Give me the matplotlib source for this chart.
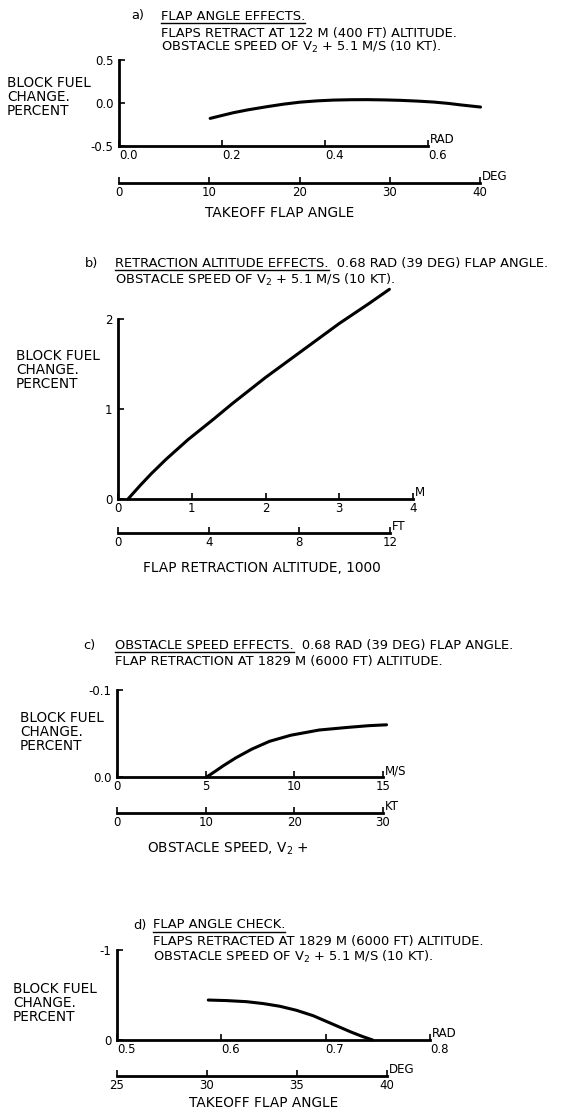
"""Block fuel change figure: four small panels with dual unit x axes."""

import matplotlib

matplotlib.use("Agg")
import matplotlib.pyplot as plt
from matplotlib.lines import Line2D

plt.rcParams["font.family"] = ["DejaVu Sans"]
plt.rcParams["mathtext.default"] = "regular"

W, H = 577, 1113

# a) flap angle effects
a_rad = [0.177, 0.20, 0.222, 0.25, 0.287, 0.32, 0.352, 0.385, 0.417, 0.45,
         0.482, 0.515, 0.546, 0.58, 0.611, 0.64, 0.663, 0.702]
a_fuel = [-0.179, -0.145, -0.113, -0.080, -0.043, -0.013, 0.010, 0.025, 0.034, 0.038,
          0.039, 0.036, 0.031, 0.022, 0.011, -0.005, -0.022, -0.047]
a_xticks = [0.0, 0.2, 0.4, 0.6]
a_xlabels = ["0.0", "0.2", "0.4", "0.6"]
a_yticks = [0.5, 0.0, -0.5]
a_ylabels = ["0.5", "0.0", "-0.5"]
a_deg = [0, 10, 20, 30, 40]

# b) retraction altitude effects
b_alt = [0.136, 0.3, 0.45, 0.65, 0.95, 1.3, 1.55, 2.0, 2.5, 3.0, 3.4, 3.68]
b_fuel = [0.0, 0.15, 0.28, 0.44, 0.66, 0.89, 1.06, 1.35, 1.65, 1.95, 2.17, 2.33]
b_xticks = [0, 1, 2, 3, 4]
b_yticks = [0, 1, 2]
b_ft = [0, 4, 8, 12]

# c) obstacle speed effects
c_speed = [5.06, 5.5, 6.0, 6.7, 7.6, 8.6, 9.8, 11.4, 13.0, 14.2, 15.2]
c_fuel = [0.0, -0.006, -0.013, -0.022, -0.032, -0.041, -0.048, -0.054, -0.057,
          -0.059, -0.060]
c_xticks = [0, 5, 10, 15]
c_yticks = [0.0, -0.1]
c_ylabels = ["0.0", "-0.1"]
c_kt = [0, 10, 20, 30]

# d) flap angle check
d_rad = [0.5875, 0.605, 0.624, 0.64, 0.656, 0.672, 0.688, 0.70, 0.712, 0.724,
         0.735, 0.745]
d_fuel = [-0.444, -0.438, -0.426, -0.405, -0.375, -0.33, -0.27, -0.21, -0.15,
          -0.09, -0.04, 0.0]
d_xticks = [0.5, 0.6, 0.7, 0.8]
d_xlabels = ["0.5", "0.6", "0.7", "0.8"]
d_yticks = [0, -1]
d_ylabels = ["0", "-1"]
d_deg = [25, 30, 35, 40]

FS_TICK = 8.5
FS_TITLE = 9.4
FS_LABEL = 9.8
LW = 2.0
LW_CURVE = 2.2


def rect(left, top, width, height):
    return [left / W, 1 - (top + height) / H, width / W, height / H]


def fx(x):
    return x / W


def fy(y):
    return 1 - y / H


def main_axes(fig, r, xlim, ylim, xticks, xlabels, yticks, ylabels, unit, left_labels=False):
    ax = fig.add_axes(rect(*r))
    ax.set_xlim(*xlim)
    ax.set_ylim(*ylim)
    for s in ("top", "right"):
        ax.spines[s].set_visible(False)
    for s in ("left", "bottom"):
        ax.spines[s].set_linewidth(LW)
    ax.set_xticks(xticks, xlabels, fontsize=FS_TICK)
    ax.set_yticks(yticks, ylabels, fontsize=FS_TICK)
    ax.tick_params(direction="in", length=4, width=1.2, pad=2)
    ax.tick_params(axis="y", pad=4)
    if left_labels:
        # decimal labels sit to the right of their tick in the original
        for lbl in ax.get_xticklabels():
            lbl.set_horizontalalignment("left")
    ax.patch.set_alpha(0)
    ax.annotate(unit, xy=(1, 0), xycoords="axes fraction", xytext=(1, 0),
                textcoords="offset points", fontsize=FS_TICK, ha="left", va="bottom")
    return ax


def unit_axes(fig, left, width, line_y, xlim, ticks, unit):
    ax = fig.add_axes(rect(left, line_y - 12, width, 12))
    ax.set_xlim(*xlim)
    ax.set_ylim(0, 1)
    for s in ("top", "right", "left"):
        ax.spines[s].set_visible(False)
    ax.spines["bottom"].set_linewidth(LW)
    ax.set_yticks([])
    ax.set_xticks(ticks, [str(t) for t in ticks], fontsize=FS_TICK)
    ax.tick_params(direction="in", length=4, width=1.2, pad=2)
    ax.patch.set_alpha(0)
    ax.annotate(unit, xy=(1, 0), xycoords="axes fraction", xytext=(1, 0),
                textcoords="offset points", fontsize=FS_TICK, ha="left", va="bottom")
    return ax


fig = plt.figure(figsize=(W / 100, H / 100), dpi=100)
underlines = []


def title(letter, lx, tx, lines, underline_part):
    fig.text(fx(lx), fy(lines[0][1]), letter, fontsize=FS_TITLE, va="center", ha="left")
    first = None
    for i, (txt, y) in enumerate(lines):
        t = fig.text(fx(tx), fy(y), txt, fontsize=FS_TITLE, va="center", ha="left")
        if i == 0:
            first = t
    underlines.append((first, underline_part))


def ylabel(x, y):
    fig.text(fx(x), fy(y), "BLOCK FUEL\nCHANGE.\nPERCENT", fontsize=FS_LABEL,
             va="center", ha="left", linespacing=1.0)


def xlabel(x, y, txt):
    fig.text(fx(x), fy(y), txt, fontsize=FS_LABEL, ha="center", va="center")


def curve(ax, xs, ys):
    ax.plot(xs, ys, color="black", lw=LW_CURVE, clip_on=False,
            solid_capstyle="round", solid_joinstyle="round")


# panel a
title("a)", 131, 161, [("FLAP ANGLE EFFECTS.", 16),
                       ("FLAPS RETRACT AT 122 M (400 FT) ALTITUDE.", 33),
                       ("OBSTACLE SPEED OF V$_2$ + 5.1 M/S (10 KT).", 47)],
      "FLAP ANGLE EFFECTS.")
ylabel(7, 97)
ax = main_axes(fig, (119, 60, 309, 86), (0, 0.6), (-0.5, 0.5),
               a_xticks, a_xlabels, a_yticks, a_ylabels, "RAD", left_labels=True)
curve(ax, a_rad, a_fuel)
unit_axes(fig, 119, 361, 183, (0, 40), a_deg, "DEG")
xlabel(280, 213, "TAKEOFF FLAP ANGLE")

# panel b
title("b)", 85, 115, [("RETRACTION ALTITUDE EFFECTS.  0.68 RAD (39 DEG) FLAP ANGLE.", 263),
                      ("OBSTACLE SPEED OF V$_2$ + 5.1 M/S (10 KT).", 280)],
      "RETRACTION ALTITUDE EFFECTS.")
ylabel(16, 370)
ax = main_axes(fig, (118, 319, 295, 180), (0, 4), (0, 2),
               b_xticks, [str(t) for t in b_xticks], b_yticks,
               [str(t) for t in b_yticks], "M")
curve(ax, b_alt, b_fuel)
unit_axes(fig, 118, 272, 533, (0, 12), b_ft, "FT")
xlabel(262, 568, "FLAP RETRACTION ALTITUDE, 1000")

# panel c
title("c)", 83, 115, [("OBSTACLE SPEED EFFECTS.  0.68 RAD (39 DEG) FLAP ANGLE.", 645),
                      ("FLAP RETRACTION AT 1829 M (6000 FT) ALTITUDE.", 662)],
      "OBSTACLE SPEED EFFECTS.")
ylabel(20, 732)
ax = main_axes(fig, (117, 690, 266, 87), (0, 15), (0.0, -0.1),
               c_xticks, [str(t) for t in c_xticks], c_yticks, c_ylabels, "M/S")
curve(ax, c_speed, c_fuel)
unit_axes(fig, 117, 266, 813, (0, 30), c_kt, "KT")
xlabel(228, 849, "OBSTACLE SPEED, V$_2$ +")

# panel d
title("d)", 133, 153, [("FLAP ANGLE CHECK.", 925),
                       ("FLAPS RETRACTED AT 1829 M (6000 FT) ALTITUDE.", 942),
                       ("OBSTACLE SPEED OF V$_2$ + 5.1 M/S (10 KT).", 957)],
      "FLAP ANGLE CHECK.")
ylabel(13, 1003)
ax = main_axes(fig, (117, 950, 313, 90), (0.5, 0.8), (0, -1),
               d_xticks, d_xlabels, d_yticks, d_ylabels, "RAD", left_labels=True)
curve(ax, d_rad, d_fuel)
unit_axes(fig, 117, 270, 1076, (25, 40), d_deg, "DEG")
xlabel(264, 1103, "TAKEOFF FLAP ANGLE")

# underline the headings
fig.canvas.draw()
renderer = fig.canvas.get_renderer()
inv = fig.transFigure.inverted()
for t, part in underlines:
    tmp = fig.text(0, 0, part, fontsize=FS_TITLE, transform=t.get_transform())
    tmp.set_position(t.get_position())
    tmp.set_va("center")
    bb = tmp.get_window_extent(renderer)
    tmp.remove()
    (x0, y0), (x1, _) = inv.transform([(bb.x0, bb.y0), (bb.x1, bb.y1)])
    fig.add_artist(Line2D([x0, x1], [y0 - 0.5 / H, y0 - 0.5 / H],
                          transform=fig.transFigure, color="black", lw=1.0))

fig.savefig("out.png", dpi=100)
